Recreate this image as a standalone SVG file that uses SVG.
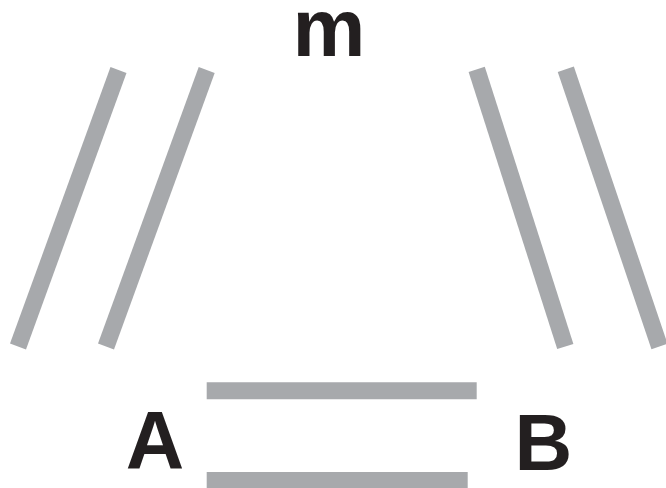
<svg xmlns="http://www.w3.org/2000/svg" width="666" height="488" viewBox="0 0 666 488">
<style>
.bar{stroke:#a7a9ac;stroke-width:17;fill:none;stroke-linecap:butt}
.lbl{font-family:"Liberation Sans",Arial,sans-serif;font-weight:bold;fill:#231f20}
</style>
<rect width="666" height="488" fill="#ffffff"/>
<g id="bars">
<line class="bar" x1="118.5" y1="70" x2="18" y2="346.5"/>
<line class="bar" x1="206.7" y1="70" x2="106" y2="346.5"/>
<line class="bar" x1="476.7" y1="69.3" x2="565.3" y2="346.5"/>
<line class="bar" x1="565.8" y1="69.3" x2="659.5" y2="346.5"/>
<line class="bar" x1="206.7" y1="390.8" x2="476.7" y2="390.8"/>
<line class="bar" x1="206.7" y1="480.5" x2="467.7" y2="480.5"/>
</g>
<g id="label-m"><text class="lbl" x="329" y="56" font-size="82" text-anchor="middle">m</text></g>
<g id="label-A"><text class="lbl" x="155" y="468" font-size="81" text-anchor="middle">A</text></g>
<g id="label-B"><text class="lbl" x="543.5" y="470" font-size="80" text-anchor="middle">B</text></g>
</svg>
